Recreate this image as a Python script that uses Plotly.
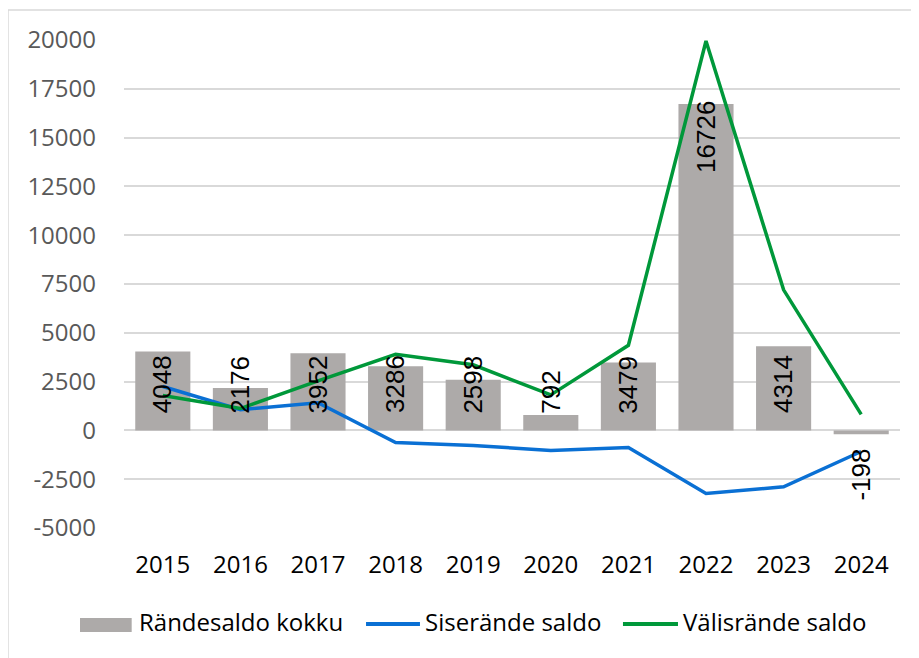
import plotly.graph_objects as go

years = [2015, 2016, 2017, 2018, 2019, 2020, 2021, 2022, 2023, 2024]
total = [4048, 2176, 3952, 3286, 2598, 792, 3479, 16726, 4314, -198]
internal = [2250, 1060, 1420, -620, -770, -1030, -880, -3230, -2890, -1080]
external = [1790, 1120, 2540, 3900, 3360, 1820, 4360, 19950, 7200, 820]
y_ticks = [-5000, -2500, 0, 2500, 5000, 7500, 10000, 12500, 15000, 17500, 20000]
names = ["Rändesaldo kokku", "Siserände saldo", "Välisrände saldo"]

BAR = "#ADAAA9"
BLUE = "#0A70D4"
GREEN = "#00983A"
GRID = "#D9D9D9"
FONT = "Open Sans"

fig = go.Figure()
fig.add_trace(go.Bar(x=years, y=total, name=names[0], marker_color=BAR,
                     marker_line_width=0, width=0.71))
fig.add_trace(go.Scatter(x=years, y=internal, name=names[1], mode="lines",
                         line=dict(color=BLUE, width=3.5)))
fig.add_trace(go.Scatter(x=years, y=external, name=names[2], mode="lines",
                         line=dict(color=GREEN, width=3.5)))

annotations = []
for yr, v in zip(years, total):
    if v > 10000:
        a = dict(y=v, yanchor="top", yshift=5)
    elif v >= 0:
        a = dict(y=0, yanchor="bottom", yshift=15)
    else:
        a = dict(y=0, yanchor="top", yshift=-16)
    annotations.append(dict(x=yr, xref="x", yref="y", text=str(v), textangle=-90,
                            showarrow=False, xanchor="center",
                            font=dict(family="Liberation Sans", size=26, color="black"), **a))

# custom legend (paper coordinates)
leg_font = dict(family=FONT, size=24, color="black")
leg_y = -0.1907
for xt, nm in zip([0.018, 0.3866, 0.7191], names):
    annotations.append(dict(x=xt, y=leg_y, xref="paper", yref="paper", text=nm,
                            showarrow=False, xanchor="left", yanchor="middle",
                            font=leg_font, borderpad=0))

shapes = [
    dict(type="line", xref="paper", yref="paper", x0=-0.1495, x1=1.2, y0=1.0615, y1=1.0615,
         line=dict(color=GRID, width=1.5)),
    dict(type="line", xref="paper", yref="paper", x0=-0.1495, x1=-0.1495, y0=1.0615, y1=-0.5,
         line=dict(color=GRID, width=1.5)),
    dict(type="rect", xref="paper", yref="paper", x0=-0.0567, x1=0.0099, y0=-0.2131, y1=-0.1844,
         fillcolor=BAR, line=dict(width=0)),
    dict(type="line", xref="paper", yref="paper", x0=0.3119, x1=0.3814, y0=-0.1967, y1=-0.1967,
         line=dict(color=BLUE, width=4)),
    dict(type="line", xref="paper", yref="paper", x0=0.643, x1=0.7139, y0=-0.1967, y1=-0.1967,
         line=dict(color=GREEN, width=4)),
]

fig.update_layout(
    width=919, height=658,
    margin=dict(l=116, r=27, t=32, b=138),
    paper_bgcolor="white", plot_bgcolor="white",
    annotations=annotations,
    shapes=shapes,
    showlegend=False,
    xaxis=dict(range=[2014.5, 2024.5], tickvals=years, ticktext=[str(y) for y in years],
               showgrid=False, zeroline=False, showline=False,
               tickfont=dict(family=FONT, size=24, color="black"), ticks="",
               ticklabelstandoff=20),
    yaxis=dict(range=[-5000, 20000], tickvals=y_ticks, ticktext=[str(t) for t in y_ticks],
               showgrid=True, gridcolor=GRID, gridwidth=1.5, zeroline=True,
               zerolinecolor=GRID, zerolinewidth=1.5, showline=False,
               tickfont=dict(family=FONT, size=24, color="#595959"), ticks="",
               ticklabelstandoff=27),
)

fig.write_html("out.html")
